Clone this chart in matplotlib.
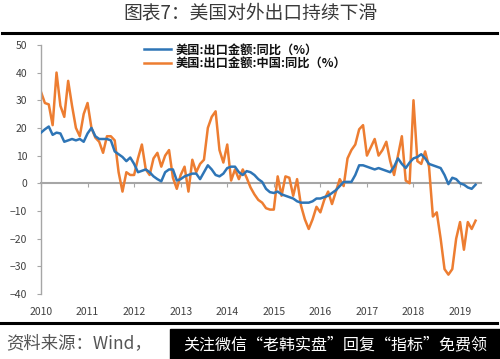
import matplotlib
matplotlib.use('Agg')
import matplotlib.pyplot as plt
from matplotlib.lines import Line2D
from matplotlib.patches import Rectangle
import numpy as np

plt.rcParams['font.family'] = ['Noto Sans CJK SC', 'DejaVu Sans']

title = '图表7：美国对外出口持续下滑'
label_us = '美国:出口金额:同比（%）'
label_cn = '美国:出口金额:中国:同比（%）'
source = '资料来源：Wind，'
watermark = '关注微信“老韩实盘”回复“指标”免费领'

year_ticks = [2010, 2011, 2012, 2013, 2014, 2015, 2016, 2017, 2018, 2019]
year_labels = [str(y) for y in year_ticks]
y_ticks = [-40, -30, -20, -10, 0, 10, 20, 30, 40, 50]

# monthly values Jan 2010 - May 2019
us = [18.3, 19.5, 20.5, 17.5, 18.3, 18, 15, 15.5, 16, 15.5, 16, 15,
      18, 20, 17, 16, 16, 16, 15.5, 11.5, 10.5, 9.5, 8, 9.3,
      7, 4, 4.5, 5, 4, 2.5, 1.5, 0.7, 4, 5, 5, 1,
      1.5, 2.5, 3, 3.5, 3.5, 1.5, 4, 6.5, 5, 3, 2.5, 3.5,
      5.5, 6, 6, 4, 3, 4.4, 4, 3, 1.5, 0.5, -2, -3.2,
      -3.5, -3, -4, -4.5, -5, -5.5, -6.5, -7, -7, -7, -6.5, -5.5,
      -5.5, -5, -4.5, -3.5, -2.5, -1, 0.5, 0.5, 0.5, 3, 6.5, 6.5,
      6, 5.5, 5, 5.5, 5, 4.5, 4, 6, 9, 7, 5.5, 7.5,
      9, 9.5, 10.5, 9, 7, 6.5, 6, 5.5, 3, -0.3, 2, 1.5,
      0, -0.5, -1.5, -2, -0.5]

china = [33, 29, 28.5, 21, 40, 28, 24, 37, 28, 20, 17, 25,
         29, 20, 16.5, 15, 11, 17, 17, 15.5, 4, -3, 4, 3,
         3, 9, 14, 5, 3, 9, 11, 6, 10, 12, 2, -2,
         3, 6, -3, 8.5, 4, 7, 8.5, 20, 24, 26, 12, 7.5,
         14, 1, 5, 1.5, 5, 2, -1.5, -4, -6, -7, -9, -9.5,
         -9.5, 2.5, -4.5, 2.5, 2, -4.5, 1.5, -8, -13, -16.5, -13, -8.5,
         -10.5, -6, -3, -7.5, -3, 1.5, -1, 9, 12, 14, 19.5, 21,
         10, 13, 16, 10, 12, 15, 8, 3, 10, 17, 1, 0,
         30, 8, 7, 11.5, 6, -12, -10.5, -20, -31, -33, -31, -20,
         -14, -24, -14, -16.5, -13.5]

x = 2010 + np.arange(len(us)) / 12.0

fig = plt.figure(figsize=(5.0, 3.59), dpi=100)
ax = fig.add_axes([0.082, 0.181, 0.88, 0.694])

ax.plot(x, us, color='#2E75B6', lw=1.8, label=label_us, zorder=3)
ax.plot(x, china, color='#ED7D31', lw=1.8, label=label_cn, zorder=2)

ax.set_xlim(2010, 2019.45)
ax.set_ylim(-40, 50)
ax.set_yticks(y_ticks)
ax.set_xticks(year_ticks)

gray = '#A6A6A6'
for s in ['top', 'right']:
    ax.spines[s].set_visible(False)
ax.spines['left'].set_color(gray)
ax.spines['left'].set_linewidth(1.0)
ax.spines['bottom'].set_position(('data', 0))
ax.spines['bottom'].set_color(gray)
ax.spines['bottom'].set_linewidth(1.5)
ax.spines['bottom'].set_zorder(1)
ax.tick_params(axis='x', labelbottom=False, direction='out', length=3, color=gray)
ax.tick_params(axis='y', direction='out', length=3, color=gray, labelsize=7.5,
               labelcolor='#404040', pad=7)

sec = ax.secondary_xaxis('bottom')
sec.set_xticks(year_ticks)
sec.set_xticklabels(year_labels)
sec.spines['bottom'].set_visible(False)
sec.tick_params(length=0, labelsize=7.5, labelcolor='#404040', pad=9)

leg = ax.legend(loc='upper left', bbox_to_anchor=(137 / 500, 1 - 36 / 359),
                bbox_transform=fig.transFigure, frameon=False, fontsize=8.8,
                handlelength=2.2, handletextpad=0.4, labelspacing=0.05,
                borderpad=0.1)
for t in leg.get_texts():
    t.set_fontweight('bold')
    t.set_color('#111111')

fig.text(0.5, 1 - 13 / 359, title, ha='center', va='center', fontsize=13.5,
         color='#3A3A3A')
fig.add_artist(Line2D([0.004, 0.994], [1 - 33 / 359] * 2, color='black', lw=2.2,
                      transform=fig.transFigure))
fig.add_artist(Line2D([0.0, 0.994], [1 - 323 / 359] * 2, color='black', lw=2.2,
                      transform=fig.transFigure))

fig.text(0.012, 1 - 343 / 359, source, ha='left', va='center', fontsize=12.5,
         color='#555555', style='italic')
fig.add_artist(Rectangle((170 / 500, 0), 330 / 500, 30 / 359, color='black',
                         transform=fig.transFigure))
fig.text(335 / 500, 14 / 359, watermark, ha='center', va='center', fontsize=11.5,
         color='white')

fig.savefig('out.png', dpi=100)
